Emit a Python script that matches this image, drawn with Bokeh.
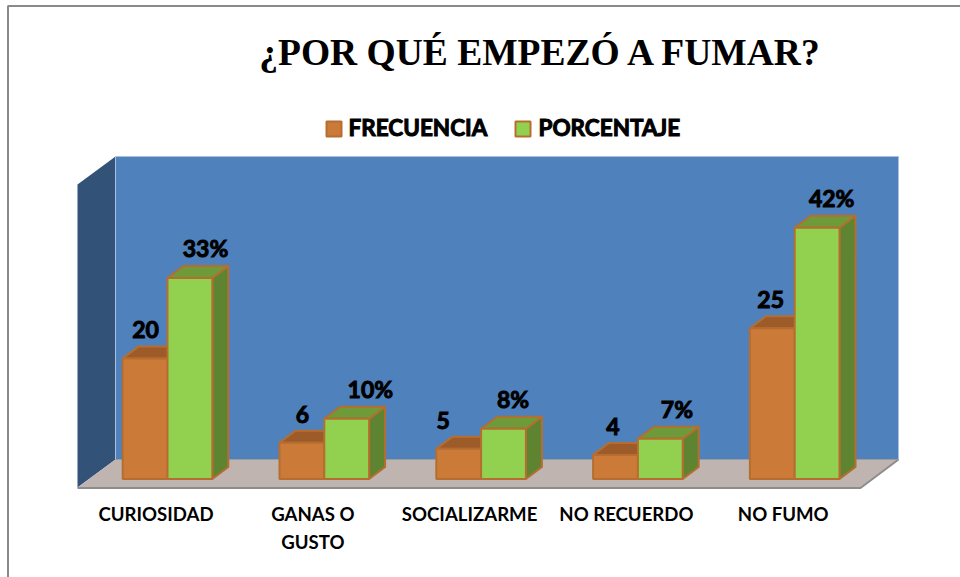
from bokeh.plotting import figure
from bokeh.embed import file_html
from bokeh.resources import INLINE
from bokeh.core.properties import value
from bokeh.models import Range1d

title = "¿POR QUÉ EMPEZÓ A FUMAR?"
categories = ["CURIOSIDAD", "GANAS O\nGUSTO", "SOCIALIZARME", "NO RECUERDO", "NO FUMO"]
series_names = ["FRECUENCIA", "PORCENTAJE"]
frecuencia = [20, 6, 5, 4, 25]
porcentaje = [33.33, 10, 8.33, 6.67, 41.67]
frec_label_dx = [-22, -22, -38, -25, -24]   # label placement, pixels from the category centre
porc_label_dx = [38, 46, 32, 39, 37]

W, H = 960, 577
X0, SX = 167.0, 156.8   # pixel of the first category, pixels per category
Y0, SY = 478.5, 6.03    # pixel of value 0, pixels per value unit

def dx(px): return px / SX
def dy(px): return px / SY
def X(px): return (px - X0) / SX
def Y(py): return (Y0 - py) / SY

p = figure(width=W, height=H, output_backend="svg", toolbar_location=None,
           x_range=Range1d(X(0), X(W)), y_range=Range1d(Y(H), Y(0)),
           min_border=0, outline_line_color=None, background_fill_color="white",
           border_fill_color="white")
p.styles = {"position": "absolute", "left": "0px", "top": "0px"}
p.axis.visible = False
p.grid.visible = False

# chart frame
p.line([X(7.5), X(7.5), X(W)], [Y(H), Y(5.5), Y(5.5)], line_color="#8a8a8a", line_width=2)

# walls and floor
p.patch([X(77), X(115), X(115), X(77)], [Y(487), Y(459), Y(156), Y(184)],
        fill_color="#325278", line_color=None)
p.patch([X(115), X(898), X(898), X(115)], [Y(459), Y(459), Y(156), Y(156)],
        fill_color="#4F81BD", line_color="#A9C0DE", line_width=1)
p.patch([X(77), X(115), X(898), X(860)], [Y(487), Y(459), Y(459), Y(487)],
        fill_color="#BFB4B0", line_color=None)
p.line([X(77), X(860), X(898)], [Y(487.5), Y(487.5), Y(459)], line_color="#8c8c8c", line_width=2)
p.line([X(115), X(898)], [Y(459), Y(459)], line_color="#9c9c9c", line_width=1)

BW = 44.8 / SX
DX, DY = dx(16), dy(12)
EDGE = "#B56E30"

def bars(vals, offset, face, top, side):
    for i, v in enumerate(vals):
        l, r = i + offset, i + offset + BW
        p.patch([r, r + DX, r + DX, r], [0, DY, v + DY, v], fill_color=side,
                line_color=EDGE, line_width=2, line_join="round")
        p.patch([l, r, r + DX, l + DX], [v, v, v + DY, v + DY], fill_color=top,
                line_color=EDGE, line_width=2, line_join="round")
    p.quad(left=[i + offset for i in range(len(vals))],
           right=[i + offset + BW for i in range(len(vals))],
           bottom=0, top=vals, fill_color=face, line_color=EDGE, line_width=2)

bars(frecuencia, -BW, "#CB7A37", "#9C5B29", "#9C5B29")
bars(porcentaje, 0, "#92D14F", "#6F9A3A", "#5F8431")

heavy = dict(text_font=value("Lato"), text_font_style="bold", text_color="black")
# data labels
p.text([i + dx(o) for i, o in enumerate(frec_label_dx)], [v + dy(20) for v in frecuencia],
       text=[str(v) for v in frecuencia], text_font_size="23px", text_align="center",
       text_baseline="bottom", text_outline_color="black", **heavy)
p.text([i + dx(o) for i, o in enumerate(porc_label_dx)], [v + dy(16) for v in porcentaje],
       text=[f"{round(v)}%" for v in porcentaje], text_font_size="23px", text_align="center",
       text_baseline="bottom", text_outline_color="black", **heavy)

# category labels
p.text([i - dx(11.5) for i in range(5)], [Y(502)] * 5, text=categories,
       text_font_size="18.6px", text_align="center", text_baseline="top",
       text_line_height=1.3, **heavy)

# title
p.text([X(541)], [Y(51.5)], text=[title], text_font=value("Liberation Serif"), text_font_style="bold",
       text_font_size="37.5px", text_align="center", text_baseline="middle", text_color="black")

# legend
p.quad(left=[X(326), X(515)], right=[X(341), X(530)], bottom=[Y(136)] * 2, top=[Y(121)] * 2,
       fill_color=["#CB7A37", "#92D14F"], line_color=EDGE, line_width=2)
p.text([X(348), X(538)], [Y(127)] * 2, text=series_names, text_font_size="22.5px",
       text_align="left", text_baseline="middle", text_outline_color="black", **heavy)

open("out.html", "w").write(file_html(p, INLINE))
